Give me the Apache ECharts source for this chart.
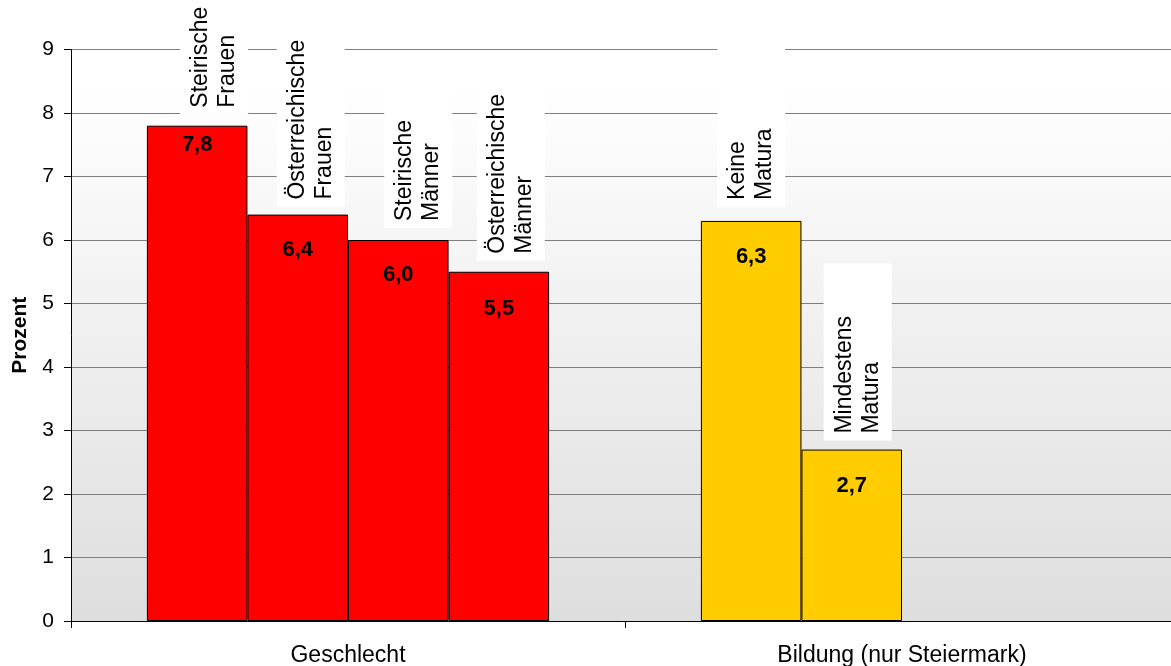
<!DOCTYPE html>
<html>
<head>
<meta charset="utf-8">
<script src="https://cdn.jsdelivr.net/npm/echarts@6/dist/echarts.min.js"></script>
<style>
  html, body { margin: 0; padding: 0; background: #ffffff; }
  #chart { width: 1171px; height: 666px; }
</style>
</head>
<body>
<div id="chart"></div>
<script>
// Groups on the category axis
const categories = ['Geschlecht', 'Bildung (nur Steiermark)'];

// One row per bar slot inside each group (null = no bar in that group)
const barNames = [
  ['Steirische\nFrauen', 'Keine\nMatura'],
  ['Österreichische\nFrauen', 'Mindestens\nMatura'],
  ['Steirische\nMänner', null],
  ['Österreichische\nMänner', null]
];
const barValues = [
  [7.8, 6.3],
  [6.4, 2.7],
  [6.0, null],
  [5.5, null]
];

// Value axis
const yMin = 0;
const yMax = 9;
const yStep = 1;

// Fill colour per group
const groupColors = ['#ff0000', '#ffcc00'];

// Per-bar placement of the rotated name boxes: [shift right, gap above bar]
const nameNudge = [
  [[17, 11], [0, 14]],
  [[13, 8], [6, 9]],
  [[20, 12], [0, 0]],
  [[12, 11], [0, 0]]
];
// Distance of the value label below the bar top
const valueDist = [
  [8, 25],
  [24, 25],
  [24, 0],
  [26, 0]
];

const FONT = 'Liberation Sans, Arial, sans-serif';

function fmt(v) {
  return v.toFixed(1).replace('.', ',');
}

const series = [];

// Visible bars carrying the value labels
barValues.forEach(function (vals, s) {
  series.push({
    type: 'bar',
    xAxisIndex: 0,
    barGap: '0%',
    barCategoryGap: '27.4%',
    silent: true,
    data: vals.map(function (v, i) {
      if (v === null) return null;
      return {
        value: v,
        itemStyle: { color: groupColors[i] },
        label: {
          show: true,
          position: 'insideTop',
          distance: valueDist[s][i],
          formatter: fmt(v),
          color: '#000',
          fontFamily: FONT,
          fontWeight: 'bold',
          fontSize: 22
        }
      };
    }),
    itemStyle: { borderColor: '#000', borderWidth: 1 }
  });
});

// Transparent twins on a hidden axis carrying the rotated name boxes
barValues.forEach(function (vals, s) {
  series.push({
    type: 'bar',
    xAxisIndex: 1,
    barGap: '0%',
    barCategoryGap: '27.4%',
    silent: true,
    z: 5,
    itemStyle: { color: 'rgba(0,0,0,0)' },
    data: vals.map(function (v, i) {
      if (v === null) return null;
      const n = nameNudge[s][i];
      return {
        value: v,
        label: {
          show: true,
          position: 'top',
          rotate: 90,
          align: 'left',
          verticalAlign: 'middle',
          distance: 0,
          // offset is in the rotated text frame: [along text, across text]
          offset: [n[1], n[0]],
          formatter: barNames[s][i],
          color: '#000',
          fontFamily: FONT,
          fontSize: 23,
          lineHeight: 27,
          width: 163,
          backgroundColor: '#ffffff',
          padding: [7, 7, 7, 7]
        }
      };
    })
  });
});

const chart = echarts.init(document.getElementById('chart'), null, { renderer: 'canvas' });
chart.setOption({
  animation: false,
  backgroundColor: '#ffffff',
  grid: {
    left: 71,
    width: 1108,
    top: 49.5,
    bottom: 45,
    outerBoundsMode: 'none',
    containLabel: false,
    show: true,
    borderWidth: 0,
    backgroundColor: new echarts.graphic.LinearGradient(0, 0, 0, 1, [
      { offset: 0, color: '#ffffff' },
      { offset: 0.06, color: '#ffffff' },
      { offset: 1, color: '#dedede' }
    ])
  },
  xAxis: [
    {
      type: 'category',
      data: categories,
      axisLine: { show: true, lineStyle: { color: '#000', width: 1 } },
      axisTick: { show: true, length: 7, lineStyle: { color: '#000' } },
      axisLabel: { color: '#000', fontFamily: FONT, fontSize: 23, margin: 23 },
      splitLine: { show: false },
      z: 3
    },
    {
      type: 'category',
      data: categories,
      show: false
    }
  ],
  yAxis: {
    type: 'value',
    min: yMin,
    max: yMax,
    interval: yStep,
    name: 'Prozent',
    nameLocation: 'middle',
    nameRotate: 90,
    nameGap: 40,
    nameTextStyle: { color: '#000', fontFamily: FONT, fontSize: 21, fontWeight: 'bold' },
    axisLine: { show: true, lineStyle: { color: '#000', width: 1 } },
    axisTick: { show: true, length: 7, lineStyle: { color: '#000' } },
    axisLabel: { color: '#000', fontFamily: FONT, fontSize: 21, margin: 17 },
    splitLine: { show: true, lineStyle: { color: '#7f7f7f', width: 1.2 } }
  },
  series: series
});
</script>
</body>
</html>
